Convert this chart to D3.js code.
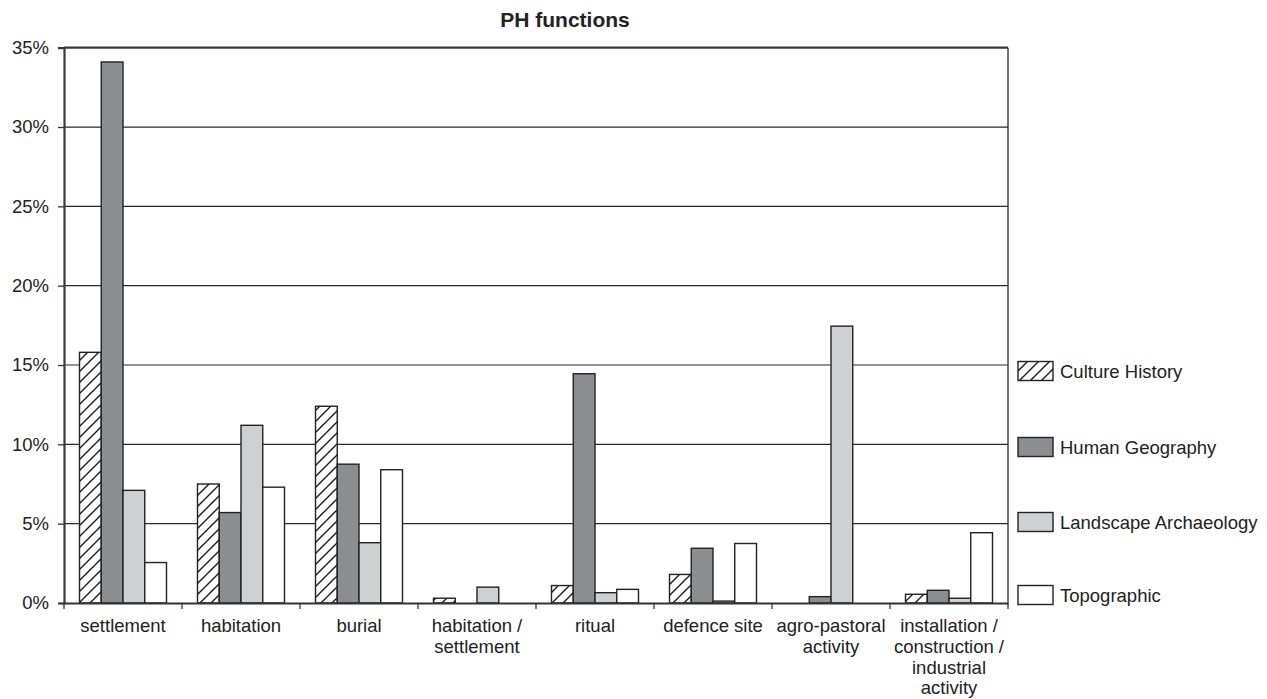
<!DOCTYPE html>
<html><head><meta charset="utf-8">
<script src="https://cdn.jsdelivr.net/npm/d3@7/dist/d3.min.js"></script>
<style>
body{margin:0;background:#fff;}
svg{display:block;font-family:"Liberation Sans",Arial,sans-serif;}
</style></head>
<body><svg id="c" width="1267" height="699"></svg>
<script>
const categories = ["settlement","habitation","burial","habitation /\nsettlement","ritual","defence site","agro-pastoral\nactivity","installation /\nconstruction /\nindustrial\nactivity"];
const seriesNames = ["Culture History","Human Geography","Landscape Archaeology","Topographic"];
const cultureHistory = [15.8, 7.5, 12.4, 0.3, 1.1, 1.8, 0, 0.55];
const humanGeography = [34.1, 5.7, 8.75, 0, 14.45, 3.45, 0.4, 0.8];
const landscapeArch = [7.1, 11.2, 3.8, 1.0, 0.65, 0.12, 17.45, 0.3];
const topographic = [2.55, 7.3, 8.4, 0, 0.86, 3.75, 0, 4.43];
const yTicks = [0,5,10,15,20,25,30,35];
const title = "PH functions";

const seriesValues = [cultureHistory, humanGeography, landscapeArch, topographic];
const fills = ["url(#hatch)", "#8d8e92", "#cfd0d2", "#ffffff"];

const svg = d3.select("#c");
const L = 64, R = 1008, T = 47.7, B = 603;

const defs = svg.append("defs");
const pat = defs.append("pattern").attr("id","hatch").attr("patternUnits","userSpaceOnUse")
  .attr("width",11).attr("height",11);
pat.append("rect").attr("width",11).attr("height",11).attr("fill","#fff");
pat.append("path").attr("d","M-1,1 l2,-2 M0,11 l11,-11 M10,12 l2,-2")
  .attr("stroke","#1a1a1a").attr("stroke-width",1.4);

const x0 = d3.scaleBand().domain(categories).range([L,R]).paddingInner(0).paddingOuter(0);
const x1 = d3.scaleBand().domain(seriesNames).range([15.5, x0.bandwidth()-15.5]).padding(0);
const y = d3.scaleLinear().domain([0,35]).range([B,T]);

// gridlines
svg.append("g").selectAll("line").data(yTicks.filter(d=>d>0)).join("line")
  .attr("x1",L).attr("x2",R).attr("y1",d=>y(d)).attr("y2",d=>y(d))
  .attr("stroke",d=>d===35?"#3a3a3a":"#2a2a2a").attr("stroke-width",d=>d===35?2.2:1.2);
// right border
svg.append("line").attr("x1",R).attr("x2",R).attr("y1",T).attr("y2",B)
  .attr("stroke","#2a2a2a").attr("stroke-width",1.3);

// bars
const rows = [];
categories.forEach((c,i)=>seriesNames.forEach((s,j)=>rows.push({c, s, v: seriesValues[j][i], j})));
svg.append("g").selectAll("rect").data(rows.filter(d=>d.v>0)).join("rect")
  .attr("x",d=>x0(d.c)+x1(d.s)).attr("width",x1.bandwidth())
  .attr("y",d=>y(d.v)).attr("height",d=>B-y(d.v))
  .attr("fill",d=>fills[d.j]).attr("stroke","#222").attr("stroke-width",1.4);

// y axis
const ya = svg.append("g").attr("transform",`translate(${L},0)`)
  .call(d3.axisLeft(y).tickValues(yTicks).tickFormat(d=>d+"%").tickSize(6).tickPadding(9));
ya.select(".domain").attr("stroke","#3a3a3a").attr("stroke-width",2.2);
ya.selectAll(".tick line").attr("stroke","#333").attr("stroke-width",1.3);
ya.selectAll(".tick text").attr("font-size",18.5).attr("fill","#222").attr("font-family","Liberation Sans, Arial, sans-serif");

// x axis line and boundary ticks
const xa = svg.append("g").attr("transform",`translate(0,${B})`)
  .call(d3.axisBottom(x0).tickSize(0).tickFormat(""));
xa.select(".domain").attr("stroke","#333").attr("stroke-width",2.2);
const bounds = categories.map(c=>x0(c)).concat([R]);
xa.append("g").selectAll("line").data(bounds).join("line")
  .attr("x1",d=>d).attr("x2",d=>d).attr("y1",0).attr("y2",6)
  .attr("stroke","#333").attr("stroke-width",1.3);

// category labels
const lab = svg.append("g").selectAll("text").data(categories).join("text")
  .attr("text-anchor","middle").attr("font-size",18.5).attr("fill","#222")
  .attr("transform",d=>`translate(${x0(d)+x0.bandwidth()/2},${B+29})`);
lab.selectAll("tspan").data(d=>d.split("\n")).join("tspan")
  .attr("x",0).attr("y",(d,i)=>i*20.8).text(d=>d);

// title
svg.append("text").attr("x",565).attr("y",27).attr("text-anchor","middle")
  .attr("font-size",21).attr("font-weight","bold").attr("fill","#222").text(title);

// legend
const legendY = [371, 447, 522, 595];
const lg = svg.append("g").selectAll("g").data(seriesNames).join("g")
  .attr("transform",(d,i)=>`translate(1018,${legendY[i]})`);
lg.append("rect").attr("x",0).attr("y",-9.5).attr("width",35).attr("height",19)
  .attr("fill",(d,i)=>fills[i]).attr("stroke","#222").attr("stroke-width",1.4);
lg.append("text").attr("x",42).attr("y",0).attr("dy","0.36em").attr("font-size",18.5)
  .attr("fill","#222").text(d=>d);
</script></body></html>
